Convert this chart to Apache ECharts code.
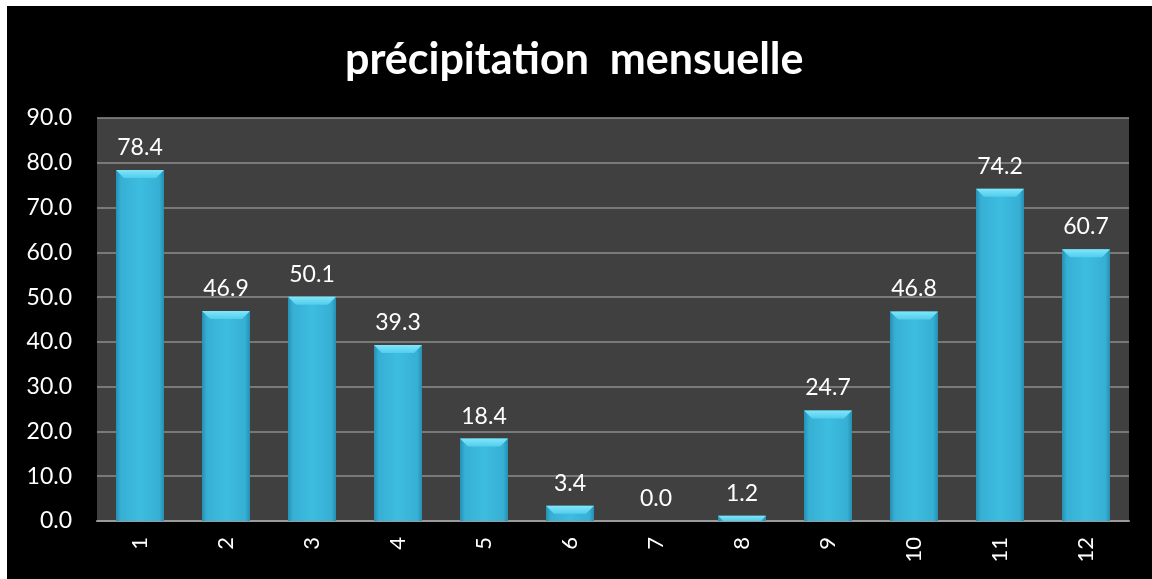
<!DOCTYPE html>
<html>
<head>
<meta charset="utf-8">
<script src="https://cdn.jsdelivr.net/npm/echarts@6/dist/echarts.min.js"></script>
<style>
html,body{margin:0;padding:0;background:#fff;width:1152px;height:579px;overflow:hidden;}
#c{position:absolute;left:7px;top:6px;width:1145px;height:573px;background:#000;}
</style>
</head>
<body>
<div id="c"></div>
<script>
var categories = ['1','2','3','4','5','6','7','8','9','10','11','12'];
var rainfall = [78.4, 46.9, 50.1, 39.3, 18.4, 3.4, 0.0, 1.2, 24.7, 46.8, 74.2, 60.7];
var titleText = 'précipitation  mensuelle';

var chart = echarts.init(document.getElementById('c'), null, {renderer:'canvas'});
var font = 'Lato, "Open Sans", sans-serif';
var BAR_W = 48;
chart.setOption({
  backgroundColor: '#000',
  animation: false,
  title: {
    text: titleText, left: 333, top: 28,
    textStyle: {color:'#fff', fontSize: 43, fontWeight: 'bold', fontFamily: font}
  },
  grid: {left: 90, right: 23, top: 112, bottom: 58, show: true, backgroundColor: '#404040', borderWidth: 0},
  xAxis: {
    type: 'category', data: categories,
    axisLine: {lineStyle: {color: '#9a9a9a', width: 2}},
    axisTick: {show: false},
    axisLabel: {color: '#fff', fontSize: 22, rotate: 90, margin: 16, fontFamily: font}
  },
  yAxis: {
    type: 'value', min: 0, max: 90, interval: 10,
    axisLine: {show: false}, axisTick: {show: false},
    splitLine: {lineStyle: {color: '#8c8c8c', width: 1.5}},
    axisLabel: {color: '#fff', fontSize: 23, margin: 25, fontFamily: font,
      formatter: function(v){return v.toFixed(1);}}
  },
  series: [{
    type: 'bar', data: rainfall, barWidth: BAR_W, z: 2,
    itemStyle: {
      color: {type:'linear', x:0, y:0, x2:1, y2:0, colorStops:[
        {offset:0, color:'#2590b3'},{offset:0.1, color:'#36b0d4'},
        {offset:0.5, color:'#3dbde0'},{offset:0.9, color:'#36b0d4'},{offset:1, color:'#2590b3'}]}
    },
    label: {show: true, position: 'top', distance: 11, color: '#fff', fontSize: 23, fontFamily: font,
      formatter: function(p){return p.value.toFixed(1);}}
  },{
    type: 'custom', z: 3, silent: true,
    data: rainfall.map(function(v, i){ return [i, v]; }),
    encode: {x: 0, y: 1},
    renderItem: function(params, api){
      var top = api.coord([api.value(0), api.value(1)]);
      var base = api.coord([api.value(0), 0]);
      var h = Math.min(8, base[1] - top[1]);
      if (h <= 0.5) return null;
      var x0 = top[0] - BAR_W/2, x1 = top[0] + BAR_W/2, y = top[1];
      var inset = h;
      return {
        type: 'polygon',
        shape: {points: [[x0, y], [x1, y], [x1 - inset, y + h], [x0 + inset, y + h]]},
        style: {fill: {type:'linear', x:0, y:0, x2:0, y2:1, colorStops:[
          {offset:0, color:'#80e6fa'},{offset:1, color:'#52cdec'}]}}
      };
    }
  }]
});
</script>
</body>
</html>
